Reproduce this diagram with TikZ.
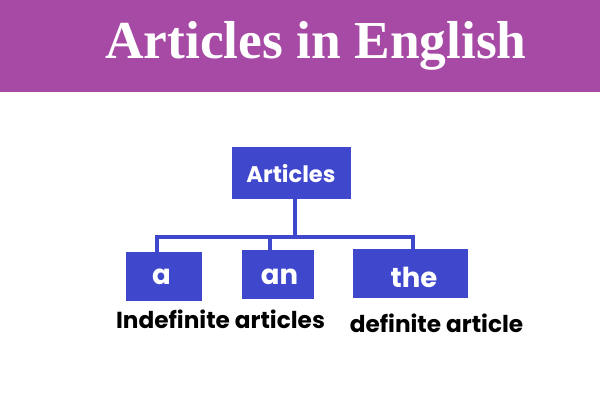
\documentclass[tikz,border=0pt]{standalone}
\usepackage{fontspec}
\setmainfont{Liberation Serif}
\newfontfamily\lbl{Poppins}
\definecolor{hdr}{HTML}{A64AA6}
\definecolor{bx}{HTML}{3F48CC}
\begin{document}
\begin{tikzpicture}[x=1pt,y=-1pt,
  box/.style={fill=bx,draw=none,inner sep=0pt},
  boxtxt/.style={inner sep=0pt,anchor=base,text=white,font=\lbl\bfseries\fontsize{27.5}{30}\selectfont},
  conn/.style={draw=bx,line width=4pt,line cap=rect},
  captxt/.style={inner sep=0pt,anchor=base,text=black,font=\lbl\bfseries\fontsize{23.2}{26}\selectfont}]
\useasboundingbox (0,0) rectangle (600,400);
\fill[white] (0,0) rectangle (600,400);
\fill[hdr] (0,0) rectangle (600,92);
\node[inner sep=0pt,text=white,font=\bfseries\fontsize{53.4}{55}\selectfont] (title) at (316,46) {Articles in English};
\node[box,minimum width=119pt,minimum height=52pt] (top) at (291.5,173) {};
\node[box,minimum width=76pt,minimum height=49pt] (a) at (164,276.5) {};
\node[box,minimum width=72pt,minimum height=49pt] (an) at (278,274.5) {};
\node[box,minimum width=115pt,minimum height=49pt] (the) at (410.5,273.5) {};
\node[boxtxt,font=\lbl\bfseries\fontsize{22.6}{25}\selectfont] (ttop) at (291,182) {Articles};
\node[boxtxt] (ta) at (161.5,284) {a};
\node[boxtxt] (tan) at (279.5,284.5) {an};
\node[boxtxt] (tthe) at (414,287) {the};
\coordinate (j) at (295,237);
\coordinate (ja) at (157,237);
\coordinate (jn) at (270,237);
\coordinate (jt) at (413,237);
\draw[conn] (top.south -| j) -- (j);
\draw[conn] (ja) -- (jt);
\draw[conn] (ja) -- (ja |- a.north);
\draw[conn] (jn) -- (jn |- an.north);
\draw[conn] (jt) -- (jt |- the.north);
\node[captxt] (ind) at (220.5,328) {Indefinite articles};
\node[captxt] (def) at (436.5,332) {definite article};
\end{tikzpicture}
\end{document}
